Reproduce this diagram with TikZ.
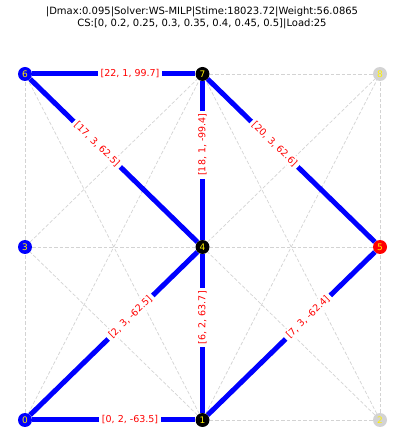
\documentclass[tikz,border=0pt]{standalone}
\usepackage{fontspec}
\setmainfont{DejaVu Sans}

\definecolor{ltgray}{RGB}{211,211,211}

\tikzset{
  vtx/.style={circle, inner sep=0pt, minimum size=14pt, text=yellow,
    font={\fontsize{9}{9}\selectfont}},
  gridedge/.style={draw=ltgray, line width=0.7pt, dash pattern=on 3.5pt off 2pt},
  route/.style={draw=blue, line width=5pt},
  wlabel/.style={pos=.6, sloped, fill=white, text=red, inner xsep=3pt, inner ysep=2pt,
    font={\fontsize{9.5}{9.5}\selectfont}}
}

\begin{document}
\begin{tikzpicture}[x=1pt, y=1pt]

\useasboundingbox (0,0) rectangle (404,445);

\node [align=center, font={\fontsize{10}{12}\selectfont}] (title) at (202,427)
 {|Dmax:0.095|Solver:WS-MILP|Stime:18023.72|Weight:56.0865\\
 CS:[0, 0.2, 0.25, 0.3, 0.35, 0.4, 0.45, 0.5]|Load:25};

% stations
\node [vtx, fill=blue] (n0) at (25,25) {0};
\node [vtx, fill=black] (n1) at (202.5,25) {1};
\node [vtx, fill=ltgray] (n2) at (380,25) {2};
\node [vtx, fill=blue] (n3) at (25,198) {3};
\node [vtx, fill=black] (n4) at (202.5,198) {4};
\node [vtx, fill=red] (n5) at (380,198) {5};
\node [vtx, fill=blue] (n6) at (25,371) {6};
\node [vtx, fill=black] (n7) at (202.5,371) {7};
\node [vtx, fill=ltgray] (n8) at (380,371) {8};

% candidate links
\foreach \a/\b in {0/1, 1/2, 3/4, 4/5, 6/7, 7/8,
                   0/3, 3/6, 1/4, 4/7, 2/5, 5/8,
                   0/4, 4/8, 2/4, 4/6, 3/7, 5/7, 1/3, 1/5,
                   0/7, 1/6, 1/8, 2/7}
  \draw [gridedge] (n\a) -- (n\b);

% chosen route
\draw [route] (n6) -- node [wlabel] {[22, 1, 99.7]} (n7);
\draw [route] (n4) -- node [wlabel] {[17, 3, 62.5]} (n6);
\draw [route] (n4) -- node [wlabel] {[18, 1, -99.4]} (n7);
\draw [route] (n5) -- node [wlabel] {[20, 3, 62.6]} (n7);
\draw [route] (n0) -- node [wlabel] {[2, 3, -62.5]} (n4);
\draw [route] (n1) -- node [wlabel] {[6, 2, 63.7]} (n4);
\draw [route] (n1) -- node [wlabel] {[7, 3, -62.4]} (n5);
\draw [route] (n0) -- node [wlabel] {[0, 2, -63.5]} (n1);

\end{tikzpicture}
\end{document}
